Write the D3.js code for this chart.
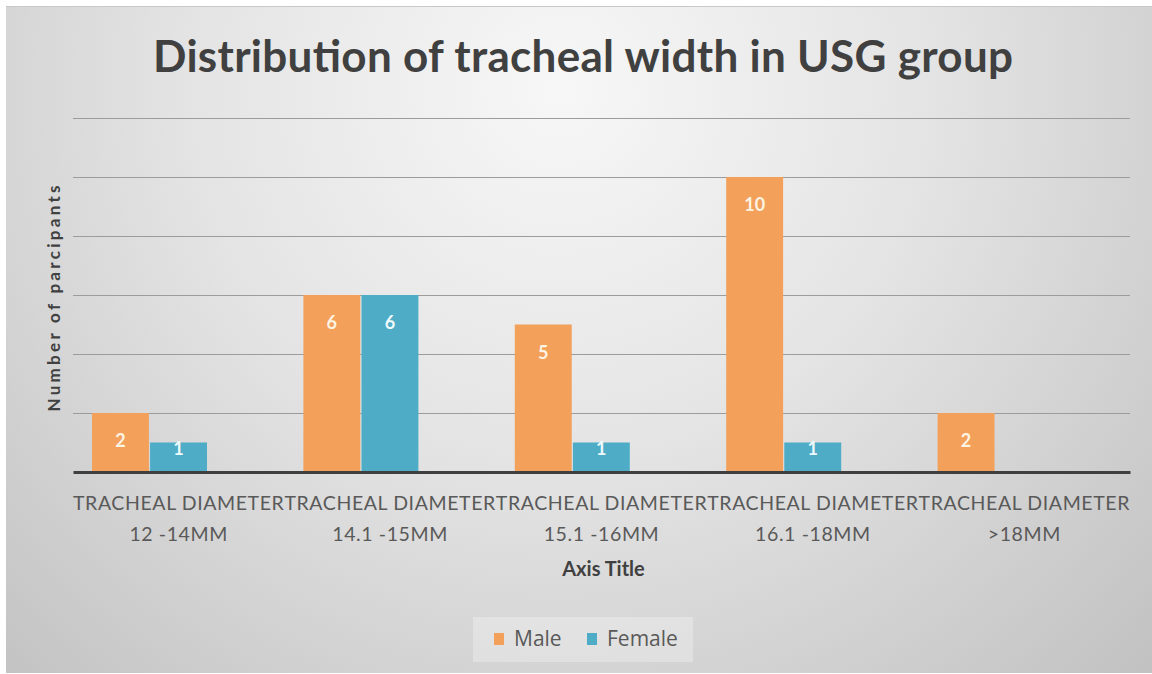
<!DOCTYPE html>
<html>
<head>
<meta charset="utf-8">
<script src="https://cdn.jsdelivr.net/npm/d3@7"></script>
<style>
  body { margin: 0; background: #fff; }
  svg { display: block; }
</style>
</head>
<body>
<svg id="chart" width="1152" height="674"></svg>
<script>
// data
var categories = [
    ["TRACHEAL DIAMETER", "12 -14MM"],
    ["TRACHEAL DIAMETER", "14.1 -15MM"],
    ["TRACHEAL DIAMETER", "15.1 -16MM"],
    ["TRACHEAL DIAMETER", "16.1 -18MM"],
    ["TRACHEAL DIAMETER", ">18MM"]
];
var seriesNames = ["Male", "Female"];
var maleValues = [2, 6, 5, 10, 2];
var femaleValues = [1, 6, 1, 1, null];
var yTicks = [0, 2, 4, 6, 8, 10, 12];
var colors = {Male: "#f2a05a", Female: "#4eacc6"};
var labelColors = {Male: "#fdf3e3", Female: "#eef9fc"};

var svg = d3.select("#chart"),
    margin = {top: 118, right: 22, bottom: 202, left: 73},
    width = +svg.attr("width") - margin.left - margin.right,
    height = +svg.attr("height") - margin.top - margin.bottom;

var font = "Lato, 'Open Sans', sans-serif";

// background
var defs = svg.append("defs");
var grad = defs.append("radialGradient")
    .attr("id", "bg")
    .attr("gradientUnits", "userSpaceOnUse")
    .attr("cx", 560).attr("cy", 90).attr("r", 820);
grad.append("stop").attr("offset", "0%").attr("stop-color", "#f7f7f7");
grad.append("stop").attr("offset", "45%").attr("stop-color", "#e4e4e4");
grad.append("stop").attr("offset", "100%").attr("stop-color", "#c2c2c2");

svg.append("rect")
    .attr("x", 6).attr("y", 6)
    .attr("width", 1146).attr("height", 667)
    .attr("fill", "url(#bg)");
svg.append("line")
    .attr("x1", 6).attr("x2", 1152).attr("y1", 6.5).attr("y2", 6.5)
    .attr("stroke", "#c8c8c8");

var g = svg.append("g").attr("transform", "translate(" + margin.left + "," + margin.top + ")");

// scales
var x = d3.scaleBand()
    .domain(d3.range(categories.length))
    .range([0, width]);

var x1 = d3.scaleBand()
    .domain(seriesNames)
    .range([19, 19 + 115])
    .paddingInner(0.02);

var y = d3.scaleLinear()
    .domain([0, 12])
    .range([height, 0]);

// gridlines
g.append("g")
    .call(d3.axisLeft(y).tickValues(yTicks.slice(1)).tickSize(-width).tickFormat(""))
    .call(function(a) { a.select(".domain").remove(); })
    .selectAll("line")
    .attr("stroke", "#9c9c9c")
    .attr("stroke-width", 1.2);

// bars
var rows = categories.map(function(c, i) {
    return {i: i, Male: maleValues[i], Female: femaleValues[i]};
});

var groups = g.selectAll(".grp")
    .data(rows)
    .enter().append("g")
    .attr("class", "grp")
    .attr("transform", function(d) { return "translate(" + x(d.i) + ",0)"; });

var bars = groups.selectAll(".bar")
    .data(function(d) {
        return seriesNames.filter(function(s) { return d[s] != null; })
            .map(function(s) { return {key: s, value: d[s]}; });
    })
    .enter();

bars.append("rect")
    .attr("class", "bar")
    .attr("x", function(d) { return x1(d.key); })
    .attr("y", function(d) { return y(d.value); })
    .attr("width", x1.bandwidth())
    .attr("height", function(d) { return height - y(d.value); })
    .attr("fill", function(d) { return colors[d.key]; });

bars.append("text")
    .attr("x", function(d) { return x1(d.key) + x1.bandwidth() / 2; })
    .attr("y", function(d) { return Math.min(y(d.value) + 34, height - 17); })
    .attr("text-anchor", "middle")
    .attr("font-family", font)
    .attr("font-weight", "bold")
    .attr("font-size", 18)
    .attr("fill", function(d) { return labelColors[d.key]; })
    .text(function(d) { return d.value; });

// x axis
var xAxis = g.append("g")
    .attr("transform", "translate(0," + height + ")")
    .call(d3.axisBottom(x).tickSize(0).tickFormat(""));
xAxis.select(".domain").attr("stroke", "#3f3f3f").attr("stroke-width", 3);

xAxis.selectAll(".tick").each(function(i) {
    var t = d3.select(this).append("text")
        .attr("fill", "#595959")
        .attr("font-family", font)
        .attr("font-size", 19.5)
        .attr("letter-spacing", 0.6)
        .attr("text-anchor", "middle");
    categories[i].forEach(function(line, k) {
        t.append("tspan").attr("x", 0).attr("y", 38 + k * 31).text(line);
    });
});

// axis titles
g.append("text")
    .attr("x", width / 2 + 2)
    .attr("y", height + 104)
    .attr("text-anchor", "middle")
    .attr("font-family", font)
    .attr("font-weight", "bold")
    .attr("font-size", 20)
    .attr("fill", "#404040")
    .text("Axis Title");

g.append("text")
    .attr("transform", "rotate(-90)")
    .attr("x", -(height / 2) - 3.5)
    .attr("y", -13)
    .attr("text-anchor", "middle")
    .attr("font-family", font)
    .attr("font-weight", "bold")
    .attr("font-size", 17)
    .attr("textLength", 226)
    .attr("lengthAdjust", "spacing")
    .attr("fill", "#404040")
    .text("Number of parcipants");

// title
svg.append("text")
    .attr("x", 583)
    .attr("y", 72)
    .attr("text-anchor", "middle")
    .attr("font-family", font)
    .attr("font-weight", "bold")
    .attr("font-size", 44)
    .attr("textLength", 860)
    .attr("lengthAdjust", "spacing")
    .attr("fill", "#404040")
    .text("Distribution of tracheal width in USG group");

// legend
var legend = svg.append("g").attr("transform", "translate(473,617)");
legend.append("rect")
    .attr("width", 220).attr("height", 45)
    .attr("fill", "#ffffff").attr("fill-opacity", 0.28);

var items = legend.selectAll(".item")
    .data(seriesNames)
    .enter().append("g")
    .attr("class", "item")
    .attr("transform", function(d, i) { return "translate(" + (21 + i * 93) + ",0)"; });
items.append("rect")
    .attr("y", 16).attr("width", 10).attr("height", 12)
    .attr("fill", function(d) { return colors[d]; });
items.append("text")
    .attr("x", 20).attr("y", 29)
    .attr("font-family", "'Open Sans', sans-serif")
    .attr("font-size", 21)
    .attr("fill", "#595959")
    .text(function(d) { return d; });
</script>
</body>
</html>
